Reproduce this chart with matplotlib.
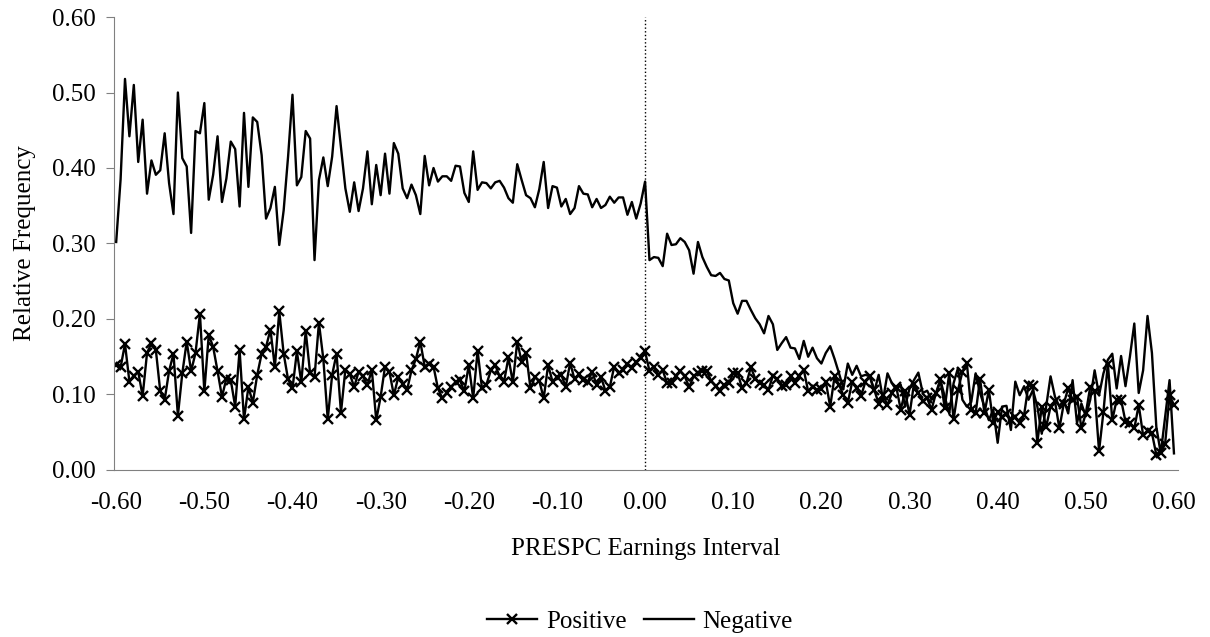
import matplotlib
matplotlib.use('Agg')
import matplotlib.pyplot as plt
import numpy as np

# relative frequency per PRESPC earnings interval
negative_left = [0.302, 0.385, 0.518, 0.442, 0.510, 0.408, 0.464, 0.366, 0.410, 0.391,
                 0.397, 0.446, 0.380, 0.339, 0.500, 0.413, 0.402, 0.314, 0.449, 0.446,
                 0.486, 0.358, 0.391, 0.442, 0.355, 0.386, 0.435, 0.425, 0.349,
                 0.473, 0.375, 0.467, 0.461, 0.417, 0.333, 0.347, 0.375, 0.298, 0.344,
                 0.415, 0.497, 0.377, 0.388, 0.449, 0.439, 0.278, 0.384, 0.414, 0.376,
                 0.415, 0.482, 0.428, 0.373, 0.342, 0.381, 0.343, 0.373, 0.422, 0.352,
                 0.404, 0.364, 0.419, 0.366, 0.433, 0.419, 0.373, 0.360, 0.378, 0.364,
                 0.339, 0.416, 0.377,
                 0.400, 0.382, 0.389, 0.389, 0.383, 0.403, 0.402, 0.367, 0.355, 0.422,
                 0.371, 0.381, 0.380, 0.373, 0.381, 0.383, 0.374, 0.360, 0.354, 0.405,
                 0.384, 0.364, 0.360, 0.348, 0.372, 0.408, 0.347, 0.376, 0.374, 0.349,
                 0.359, 0.339, 0.347, 0.376, 0.366, 0.365, 0.348, 0.359, 0.347, 0.351,
                 0.362, 0.354, 0.361, 0.361, 0.338, 0.355, 0.333, 0.353, 0.382]
negative_right = [0.278, 0.282, 0.281, 0.270, 0.313, 0.298, 0.299, 0.307, 0.302, 0.291,
                  0.260, 0.302, 0.282, 0.269, 0.258, 0.257, 0.261, 0.253, 0.251, 0.221,
                  0.207, 0.224, 0.224, 0.212, 0.201, 0.193, 0.181, 0.204, 0.193, 0.159,
                  0.168, 0.176, 0.162, 0.161, 0.147, 0.171, 0.150, 0.162, 0.148, 0.141,
                  0.155, 0.164,
                  0.147, 0.128, 0.108, 0.141, 0.126, 0.138, 0.124, 0.126, 0.124, 0.104,
                  0.126, 0.093, 0.128, 0.115, 0.106, 0.113, 0.084, 0.108, 0.119, 0.129,
                  0.102, 0.105, 0.093, 0.099, 0.119, 0.097, 0.075, 0.115, 0.135, 0.093,
                  0.084, 0.090, 0.128, 0.102, 0.084, 0.066, 0.080, 0.036, 0.084, 0.085,
                  0.053, 0.117,
                  0.099, 0.111, 0.093, 0.106, 0.084, 0.048, 0.084, 0.124, 0.097, 0.084,
                  0.093, 0.075, 0.119, 0.062, 0.088, 0.071, 0.093, 0.132, 0.099, 0.128,
                  0.146, 0.154, 0.108, 0.151, 0.111, 0.150, 0.194, 0.102, 0.132, 0.204,
                  0.155, 0.057, 0.022, 0.071, 0.119, 0.022]

positive_left = [0.139, 0.136, 0.167, 0.117, 0.125, 0.130, 0.098, 0.155, 0.168, 0.159,
                 0.104, 0.093, 0.131, 0.154, 0.072, 0.128, 0.170, 0.131, 0.155, 0.207,
                 0.104, 0.179, 0.163, 0.131, 0.097, 0.121, 0.119, 0.084, 0.159,
                 0.067, 0.110, 0.089, 0.126, 0.154, 0.163, 0.186, 0.136, 0.210, 0.154,
                 0.120, 0.108, 0.157, 0.116, 0.184, 0.128, 0.123, 0.195, 0.147, 0.067,
                 0.126, 0.154, 0.076, 0.133, 0.127, 0.110, 0.130, 0.124, 0.112, 0.133,
                 0.066, 0.097, 0.137, 0.130, 0.099, 0.123, 0.114, 0.106, 0.132, 0.147,
                 0.170, 0.137, 0.141,
                 0.137, 0.108, 0.095, 0.102, 0.110, 0.116, 0.119, 0.104, 0.139, 0.095,
                 0.158, 0.108, 0.113, 0.132, 0.139, 0.124, 0.117, 0.149, 0.116, 0.170,
                 0.143, 0.155, 0.108, 0.123, 0.118, 0.095, 0.139, 0.117, 0.123, 0.126,
                 0.110, 0.142, 0.120, 0.127, 0.119, 0.117, 0.130, 0.113, 0.123, 0.105,
                 0.110, 0.137, 0.128, 0.132, 0.141, 0.135, 0.143, 0.148, 0.157]
positive_right = [0.131, 0.136, 0.126, 0.132, 0.115, 0.115, 0.124, 0.131, 0.124, 0.110,
                  0.124, 0.129, 0.131, 0.131, 0.118, 0.111, 0.104, 0.112, 0.115, 0.128,
                  0.129, 0.108, 0.115, 0.136, 0.121, 0.115, 0.112, 0.106, 0.125, 0.120,
                  0.111, 0.112, 0.124, 0.115, 0.125, 0.133, 0.104, 0.110, 0.106, 0.107,
                  0.117, 0.084,
                  0.124, 0.113, 0.099, 0.089, 0.117, 0.108, 0.098, 0.117, 0.124, 0.106,
                  0.088, 0.099, 0.086, 0.102, 0.110, 0.080, 0.104, 0.073, 0.114, 0.102,
                  0.092, 0.095, 0.080, 0.102, 0.120, 0.082, 0.128, 0.067, 0.106, 0.130,
                  0.142, 0.080, 0.075, 0.121, 0.075, 0.106, 0.062, 0.077, 0.070, 0.074,
                  0.066, 0.070,
                  0.062, 0.073, 0.113, 0.111, 0.036, 0.084, 0.057, 0.084, 0.091, 0.055,
                  0.088, 0.108, 0.093, 0.097, 0.055, 0.075, 0.110, 0.104, 0.025, 0.077,
                  0.141, 0.066, 0.093, 0.093, 0.064, 0.062, 0.055, 0.086, 0.046, 0.051,
                  0.049, 0.020, 0.022, 0.035, 0.099, 0.086]

x_ticks = [-0.6, -0.5, -0.4, -0.3, -0.2, -0.1, 0.0, 0.1, 0.2, 0.3, 0.4, 0.5, 0.6]
y_ticks = [0.0, 0.1, 0.2, 0.3, 0.4, 0.5, 0.6]

negative = np.array(negative_left + negative_right)
positive = np.array(positive_left + positive_right)
x = np.linspace(-0.6, 0.6, len(negative))

plt.rcParams['font.family'] = ['Liberation Serif', 'DejaVu Serif']
plt.rcParams['font.size'] = 18
plt.rcParams['axes.unicode_minus'] = False

fig = plt.figure(figsize=(12.10, 6.37), dpi=100)
ax = fig.add_axes([0.0942, 0.2622, 0.8793, 0.7111])

ax.plot(x, positive, color='black', lw=1.7, marker='x', ms=7, mew=1.7, label='Positive')
ax.plot(x, negative, color='black', lw=1.7, label='Negative')
ax.axvline(0, color='black', ls=':', lw=1)

ax.set_xlim(-0.6025, 0.6045)
ax.set_ylim(0, 0.6)
ax.set_xticks(x_ticks)
ax.set_xticklabels(['%.2f' % t for t in x_ticks])
ax.set_yticks(y_ticks)
ax.set_yticklabels(['%.2f' % t for t in y_ticks])
ax.tick_params(axis='x', length=0, pad=16)
ax.tick_params(axis='y', direction='out', length=6, color='#808080', pad=7)

for s in ['top', 'right']:
    ax.spines[s].set_visible(False)
for s in ['left', 'bottom']:
    ax.spines[s].set_color('#808080')

ax.set_ylabel('Relative Frequency', labelpad=12)
ax.set_xlabel('PRESPC Earnings Interval', labelpad=17)

fig.legend(loc='center', bbox_to_anchor=(0.529, 0.024), ncol=2, frameon=False,
           handlelength=2.0, columnspacing=0.7, handletextpad=0.35)

fig.savefig('out.png', dpi=100)
